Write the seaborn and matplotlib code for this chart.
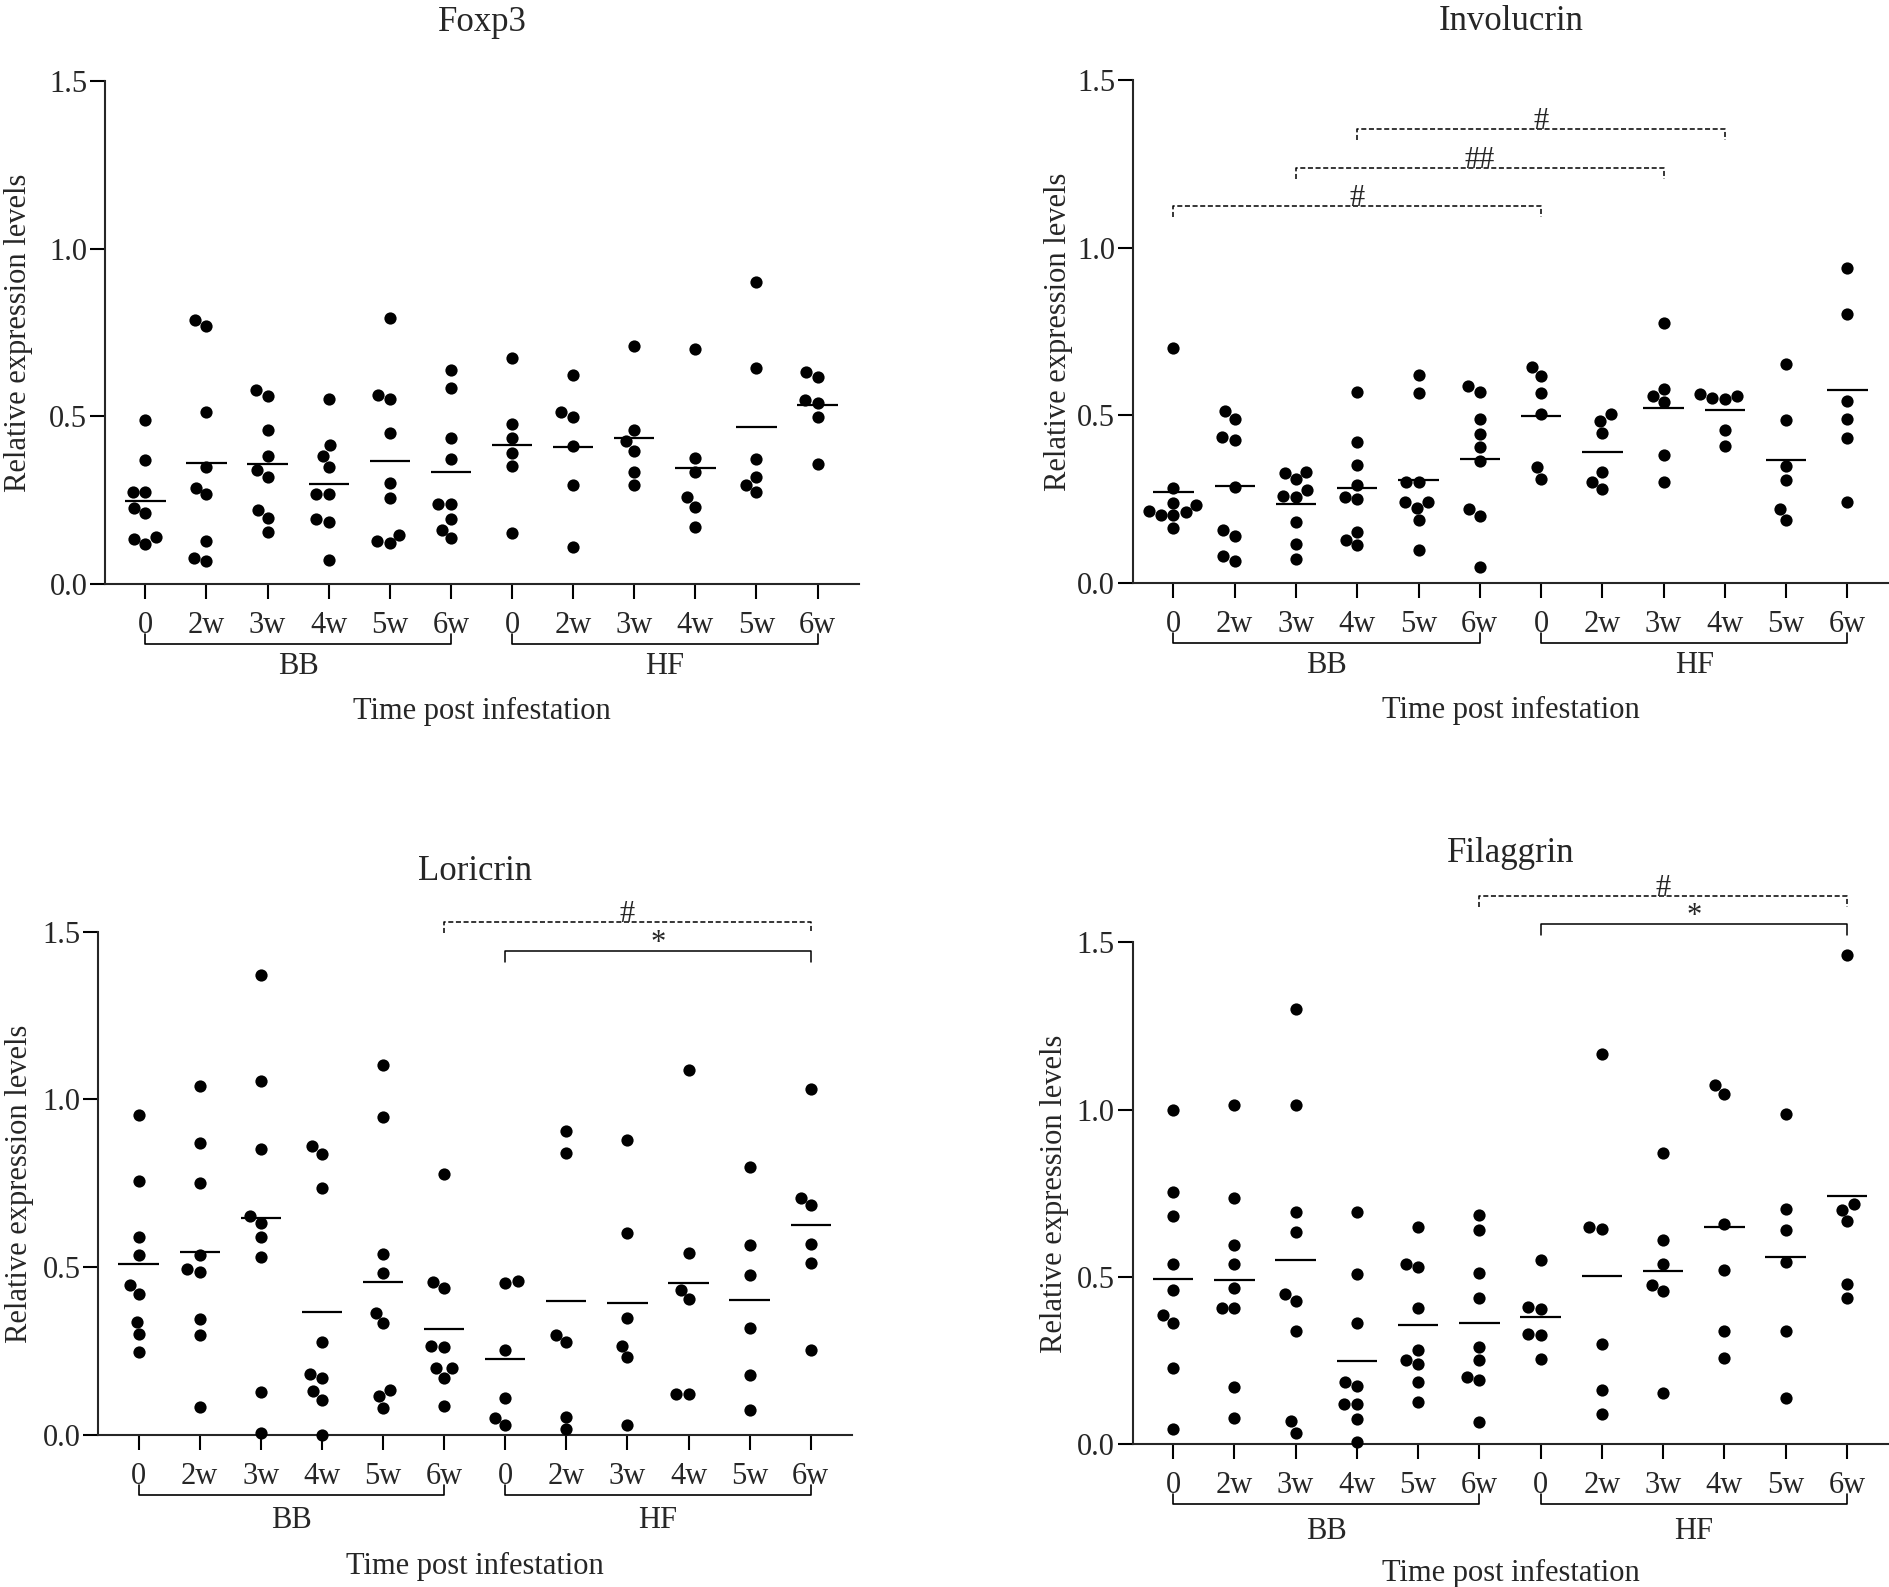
import numpy as np
import pandas as pd
import matplotlib
matplotlib.use('AGG')
import matplotlib.pyplot as plt
import seaborn as sns


# ==============================================================================
#                                                                           DATA
# ==============================================================================
times = ["0", "2w", "3w", "4w", "5w", "6w"]
groups = ["BB", "HF"]

foxp3_bb = [
    [0.49, 0.37, 0.275, 0.275, 0.226, 0.211, 0.139, 0.133, 0.119],
    [0.786, 0.769, 0.512, 0.350, 0.287, 0.267, 0.129, 0.077, 0.070],
    [0.578, 0.561, 0.460, 0.383, 0.340, 0.319, 0.221, 0.196, 0.156],
    [0.551, 0.414, 0.383, 0.350, 0.267, 0.267, 0.193, 0.186, 0.073],
    [0.793, 0.563, 0.551, 0.450, 0.302, 0.256, 0.146, 0.127, 0.122],
    [0.639, 0.584, 0.436, 0.373, 0.239, 0.239, 0.193, 0.162, 0.136],
]
foxp3_hf = [
    [0.675, 0.478, 0.436, 0.390, 0.352, 0.153],
    [0.622, 0.512, 0.499, 0.411, 0.295, 0.111],
    [0.709, 0.460, 0.425, 0.397, 0.333, 0.295],
    [0.702, 0.376, 0.333, 0.259, 0.231, 0.170],
    [0.899, 0.643, 0.373, 0.319, 0.294, 0.273],
    [0.633, 0.618, 0.548, 0.541, 0.499, 0.358],
]

involucrin_bb = [
    [0.700, 0.284, 0.240, 0.233, 0.216, 0.211, 0.203, 0.203, 0.163],
    [0.514, 0.489, 0.434, 0.426, 0.287, 0.157, 0.140, 0.080, 0.066],
    [0.332, 0.328, 0.311, 0.276, 0.259, 0.258, 0.182, 0.115, 0.073],
    [0.570, 0.420, 0.353, 0.293, 0.258, 0.252, 0.153, 0.129, 0.112],
    [0.619, 0.567, 0.300, 0.300, 0.241, 0.241, 0.224, 0.188, 0.098],
    [0.587, 0.570, 0.490, 0.444, 0.406, 0.364, 0.220, 0.199, 0.049],
]
involucrin_hf = [
    [0.643, 0.616, 0.567, 0.504, 0.346, 0.311],
    [0.503, 0.483, 0.447, 0.332, 0.300, 0.279],
    [0.776, 0.577, 0.559, 0.539, 0.381, 0.301],
    [0.563, 0.559, 0.552, 0.549, 0.455, 0.409],
    [0.654, 0.486, 0.350, 0.307, 0.220, 0.188],
    [0.938, 0.801, 0.542, 0.489, 0.433, 0.241],
]

loricrin_bb = [
    [0.953, 0.758, 0.589, 0.535, 0.448, 0.421, 0.338, 0.302, 0.248],
    [1.041, 0.870, 0.751, 0.535, 0.496, 0.487, 0.345, 0.299, 0.083],
    [1.370, 1.055, 0.851, 0.652, 0.633, 0.590, 0.531, 0.127, 0.006],
    [0.860, 0.838, 0.736, 0.277, 0.181, 0.171, 0.130, 0.105, 0.0],
    [1.103, 0.948, 0.539, 0.484, 0.364, 0.334, 0.134, 0.115, 0.080],
    [0.778, 0.455, 0.437, 0.265, 0.262, 0.200, 0.200, 0.171, 0.086],
]
loricrin_hf = [
    [0.458, 0.452, 0.254, 0.109, 0.051, 0.029],
    [0.907, 0.841, 0.299, 0.276, 0.054, 0.017],
    [0.880, 0.601, 0.350, 0.265, 0.232, 0.029],
    [1.089, 0.542, 0.433, 0.404, 0.122, 0.122],
    [0.800, 0.567, 0.477, 0.319, 0.178, 0.073],
    [1.031, 0.706, 0.684, 0.569, 0.513, 0.254],
]

filaggrin_bb = [
    [0.999, 0.754, 0.681, 0.539, 0.462, 0.385, 0.363, 0.229, 0.047],
    [1.013, 0.735, 0.596, 0.539, 0.466, 0.407, 0.407, 0.171, 0.080],
    [1.300, 1.013, 0.695, 0.634, 0.450, 0.429, 0.338, 0.069, 0.035],
    [0.695, 0.510, 0.363, 0.185, 0.175, 0.122, 0.120, 0.076, 0.006],
    [0.649, 0.538, 0.531, 0.407, 0.283, 0.251, 0.239, 0.185, 0.127],
    [0.684, 0.641, 0.513, 0.436, 0.292, 0.251, 0.200, 0.192, 0.066],
]
filaggrin_hf = [
    [0.552, 0.411, 0.404, 0.331, 0.328, 0.254],
    [1.166, 0.649, 0.644, 0.299, 0.163, 0.090],
    [0.870, 0.612, 0.539, 0.477, 0.458, 0.153],
    [1.074, 1.048, 0.659, 0.520, 0.338, 0.258],
    [0.987, 0.703, 0.641, 0.545, 0.338, 0.138],
    [1.461, 0.717, 0.700, 0.666, 0.480, 0.436],
]

# significance brackets: (from category, to category, height, label, dashed)
involucrin_sig = [(0, 6, 1.125, "#", True), (2, 8, 1.238, "##", True), (3, 9, 1.353, "#", True)]
loricrin_sig = [(5, 11, 1.528, "#", True), (6, 11, 1.443, "*", False)]
filaggrin_sig = [(5, 11, 1.639, "#", True), (6, 11, 1.554, "*", False)]

yticks = [0.0, 0.5, 1.0, 1.5]


# ==============================================================================
#                                                                    PANEL_FRAME
# ==============================================================================
def panel_frame(bb, hf):
    """Long-form table with one row per sample"""
    rows = []
    for grp, lists in zip(groups, [bb, hf]):
        for t, vals in zip(times, lists):
            for v in vals:
                rows.append(("{} {}".format(grp, t), v))
    return pd.DataFrame(rows, columns=["group", "value"])


# ==============================================================================
#                                                                     DRAW_PANEL
# ==============================================================================
def draw_panel(ax, title, bb, hf, sig, title_y, ylab_x, xlab_y, grp_y):
    df = panel_frame(bb, hf)
    order = ["{} {}".format(g, t) for g in groups for t in times]
    pos = np.arange(len(order))

    sns.swarmplot(data=df, x="group", y="value", order=order, color="black",
                  size=8.8, linewidth=0, ax=ax, zorder=3)
    for coll in ax.collections:
        coll.set_clip_on(False)

    # Mean lines
    means = df.groupby("group")["value"].mean().reindex(order).values
    ax.hlines(means, pos - 0.33, pos + 0.33, color="black", lw=1.6, zorder=4)

    ax.set_xlim(-0.66, 11.68)
    ax.set_ylim(0, 1.5)
    ax.set_yticks(yticks)
    ax.set_yticklabels(["{:.1f}".format(v) for v in yticks])
    ax.set_xticks(pos)
    ax.set_xticklabels(times * 2)
    sns.despine(ax=ax)
    for sp in ["left", "bottom"]:
        ax.spines[sp].set_linewidth(1.5)
    ax.tick_params(axis="both", length=10.8, width=1.5, labelsize=22, color="black")
    ax.tick_params(axis="x", pad=8.5)
    ax.tick_params(axis="y", pad=2)

    # Group brackets under the tick labels
    for i, grp in enumerate(groups):
        a, b = 6 * i, 6 * i + 5
        ax.plot([a, a, b, b], [-0.149, -0.179, -0.179, -0.149], color="black",
                lw=1.2, clip_on=False)
        ax.text((a + b) / 2, grp_y, grp, ha="center", va="center", fontsize=22)

    # Significance brackets
    for a, b, h, lab, dashed in sig:
        ls = (0, (3.3, 1.7)) if dashed else "-"
        ax.plot([a, a, b, b], [h - 0.033, h, h, h - 0.033], color="black",
                lw=1.1, ls=ls, clip_on=False)
        ax.text((a + b) / 2, h, lab, ha="center", va="baseline", fontsize=22)

    ax.set_xlabel("Time post infestation", fontsize=22)
    ax.xaxis.label.set_va("center")
    ax.xaxis.set_label_coords(0.5, xlab_y)
    ax.set_ylabel("Relative expression levels", fontsize=22)
    ax.yaxis.label.set_va("baseline")
    ax.yaxis.set_label_coords(ylab_x, 0.5)
    ax.text(0.5, title_y, title, transform=ax.transAxes, ha="center",
            va="baseline", fontsize=25)


# ==============================================================================
#                                                                           MAIN
# ==============================================================================
sns.set_style("ticks")
plt.rcParams["font.family"] = ["Liberation Serif", "DejaVu Serif"]

fig = plt.figure(figsize=(18.89, 15.87), dpi=100)
ax1 = fig.add_axes([0.0556, 0.6320, 0.3992, 0.3171])
ax2 = fig.add_axes([0.5998, 0.6326, 0.4002, 0.3171])
ax3 = fig.add_axes([0.0520, 0.0958, 0.3992, 0.3171])
ax4 = fig.add_axes([0.5996, 0.0899, 0.4002, 0.3163])

draw_panel(ax1, "Foxp3", foxp3_bb, foxp3_hf, [], 1.099, -0.105, -0.254, -0.247)
draw_panel(ax2, "Involucrin", involucrin_bb, involucrin_hf, involucrin_sig, 1.099, -0.089, -0.254, -0.247)
draw_panel(ax3, "Loricrin", loricrin_bb, loricrin_hf, loricrin_sig, 1.103, -0.095, -0.262, -0.255)
draw_panel(ax4, "Filaggrin", filaggrin_bb, filaggrin_hf, filaggrin_sig, 1.161, -0.093, -0.257, -0.26)

fig.savefig("out.png", dpi=100)
